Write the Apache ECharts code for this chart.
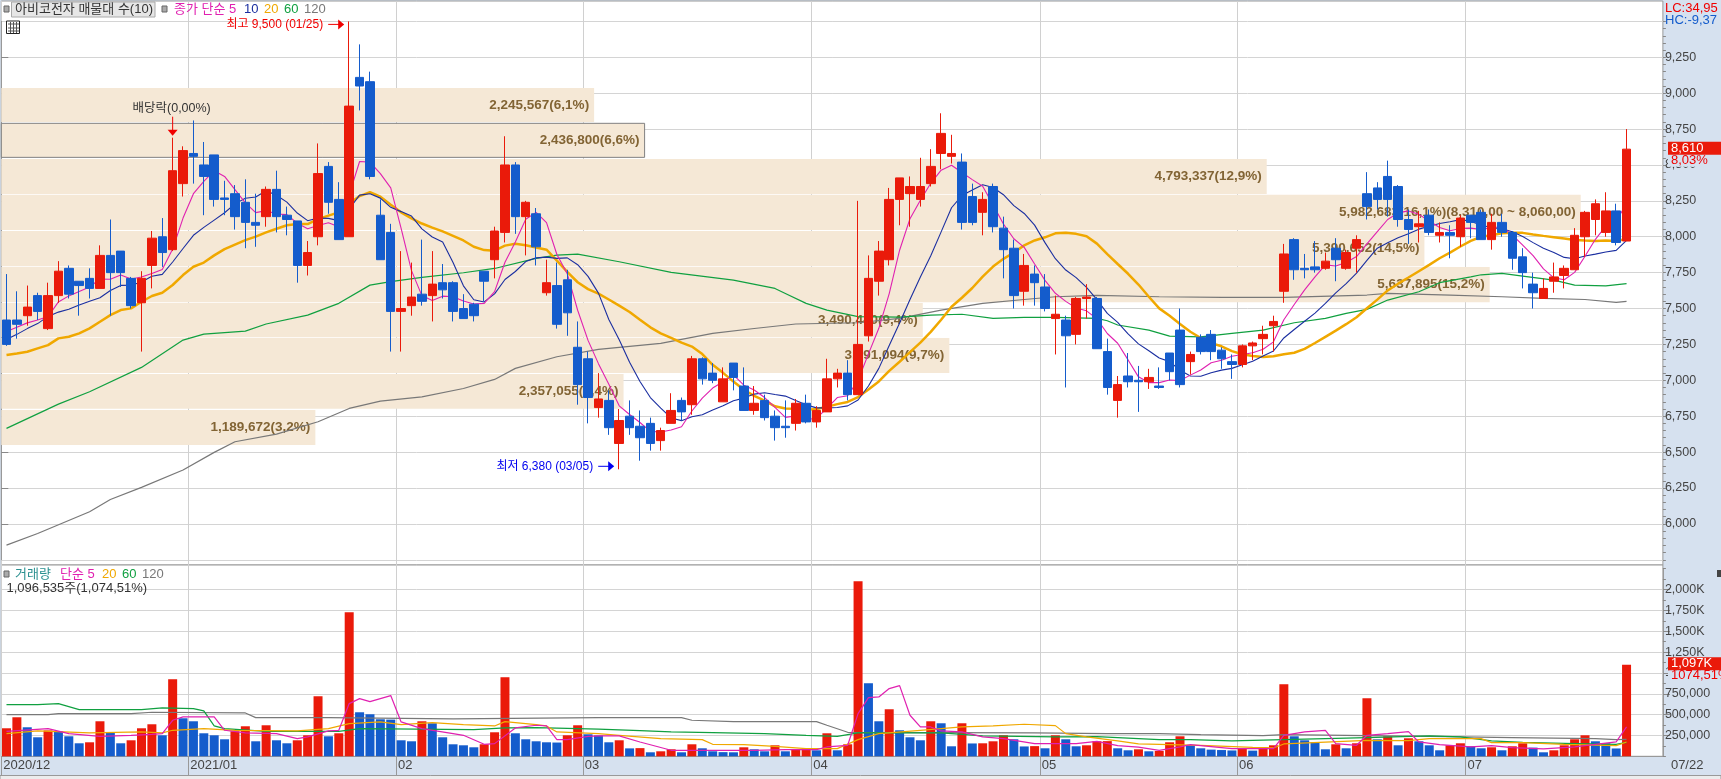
<!DOCTYPE html>
<html><head><meta charset="utf-8">
<style>html,body{margin:0;padding:0;background:#d6e1ef}#c{width:1721px;height:779px}</style>
<script src="https://cdn.jsdelivr.net/npm/echarts@6/dist/echarts.min.js"></script>
</head><body><div id="c"></div>
<script>
const opens=[7420,7420,7450,7590,7360,7590,7780,7690,7710,7640,7870,7900,7710,7540,7800,8000,7910,8370,8580,8500,8570,8270,8300,8240,8100,8140,8330,8150,8110,7800,8000,8490,8260,8000,9110,9080,8150,8030,7480,7520,7600,7590,7680,7680,7500,7530,7760,7840,8030,8500,8140,8160,7610,7660,7700,7230,7150,6810,6860,6560,6750,6680,6700,6580,6700,6860,6830,7150,7050,6850,7120,6960,6790,6860,6750,6680,6700,6840,6710,6780,7010,7050,6900,7310,7690,7840,8260,8300,8260,8370,8580,8560,8520,8280,8170,8350,8060,7920,7620,7740,7650,7430,7420,7320,7570,7570,7200,6860,7030,7000,6990,6960,7190,7350,7130,7300,7320,7210,7130,7110,7240,7290,7380,7620,7980,7780,7790,7780,7920,7780,7920,8300,8340,8420,8350,8120,8070,8150,8010,8030,8000,8150,8170,7980,8100,8030,7860,7670,7570,7690,7730,7770,8000,8120,8030,8180,7970];
const closes=[7250,7390,7510,7480,7590,7760,7600,7660,7640,7870,7750,7750,7520,7710,7990,7890,8460,8600,8560,8420,8260,8260,8140,8100,8080,8330,8140,8120,7800,7890,8440,8240,7980,8910,9050,8420,7840,7480,7500,7580,7550,7670,7630,7480,7430,7450,7690,8040,8500,8140,8240,7930,7680,7390,7470,6970,6880,6870,6670,6720,6670,6600,6560,6650,6790,6780,7150,7010,7000,7010,7020,6790,6840,6740,6670,6670,6840,6710,6790,7010,7050,6900,7250,7710,7900,8260,8410,8350,8350,8490,8720,8580,8100,8100,8260,8070,7910,7590,7800,7680,7500,7460,7310,7570,7580,7220,6950,6970,6990,6990,7020,6950,7060,6970,7180,7200,7200,7150,7110,7240,7260,7320,7410,7880,7770,7770,7770,7830,7840,7890,7980,8210,8260,8260,8120,8050,8090,8030,8030,8010,8130,8100,7980,8100,8030,7850,7750,7610,7640,7720,7780,8010,8170,8230,8180,7960,8610];
const lows=[7240,7290,7380,7420,7350,7540,7570,7450,7570,7640,7450,7650,7500,7200,7640,7790,7900,8280,8370,8150,8210,8150,8050,7920,7930,8070,8030,8010,7680,7730,7940,8160,7980,8000,8880,8400,7840,7200,7200,7450,7520,7410,7570,7410,7430,7410,7550,7710,7960,8020,7870,7800,7590,7360,7310,6830,6700,6740,6620,6380,6620,6440,6510,6510,6700,6720,6760,6970,6980,6850,6930,6790,6760,6720,6580,6600,6650,6700,6670,6780,6950,6860,6900,7270,7590,7800,8080,8070,8210,8350,8470,8510,8050,8080,8010,8030,7710,7500,7520,7520,7480,7180,6950,7250,7430,7220,6900,6740,6950,6780,6940,6940,7000,6950,7040,7180,7140,7080,7010,7090,7140,7180,7200,7540,7700,7710,7750,7770,7690,7770,7750,8120,8190,8140,8070,7950,7960,8010,7960,7850,7930,7990,7980,7910,8000,7770,7640,7500,7570,7610,7640,7770,7860,8010,8000,7940,7970];
const highs=[7740,7620,7660,7610,7680,7830,7800,7690,7780,7940,8120,7900,7720,7760,8040,8130,8690,8630,8810,8660,8570,8390,8360,8400,8300,8350,8460,8210,8110,7970,8650,8520,8380,9500,9340,9150,8260,8090,7900,7820,7980,7900,7810,7690,7600,7540,7760,8070,8700,8520,8250,8200,7840,7820,7770,7410,7200,7050,6930,6800,6860,6790,6740,6670,6910,6880,7170,7160,7120,7090,7120,7090,6960,6900,6790,6860,6870,6900,6820,7150,7080,7140,8250,7870,7970,8340,8410,8420,8550,8610,8860,8710,8580,8370,8310,8370,8140,7980,7880,7800,7740,7590,7450,7580,7670,7580,7290,7030,7190,7100,7080,7090,7190,7500,7200,7320,7350,7230,7180,7250,7270,7380,7450,7950,7990,7880,7970,7890,7990,7910,8010,8450,8380,8530,8360,8190,8180,8190,8100,8080,8150,8150,8190,8160,8160,8040,7920,7750,7710,7820,7800,8060,8180,8260,8310,8230,8750];
const ma5=[7340,7370,7400,7420,7444,7546,7588,7618,7650,7706,7704,7734,7706,7720,7744,7772,7914,8130,8300,8386,8460,8420,8328,8236,8168,8182,8158,8154,8094,8056,8078,8098,8070,8292,8524,8520,8440,8340,8058,7764,7590,7556,7586,7582,7552,7532,7536,7618,7822,7964,8122,8170,8098,7876,7742,7488,7278,7116,6972,6822,6762,6706,6644,6640,6654,6676,6786,6876,6946,6990,7038,6966,6932,6880,6812,6742,6752,6726,6736,6804,6880,6892,7000,7184,7362,7604,7906,8126,8254,8372,8464,8498,8448,8398,8352,8222,8088,7986,7926,7810,7696,7606,7550,7504,7484,7428,7326,7258,7142,7024,6984,6984,7002,6998,7036,7072,7122,7140,7168,7180,7192,7216,7268,7422,7528,7630,7720,7804,7796,7820,7862,7950,8036,8120,8166,8180,8156,8110,8064,8042,8058,8060,8050,8064,8068,8012,7942,7868,7776,7714,7700,7752,7864,7982,8074,8110,8230];
const ma10=[7285,7320,7360,7395,7445,7475,7495,7525,7550,7575,7625,7661,7662,7685,7725,7738,7824,7918,8010,8065,8116,8167,8229,8268,8277,8321,8289,8241,8165,8112,8130,8128,8112,8193,8290,8299,8269,8205,8175,8144,8055,7998,7963,7820,7658,7561,7546,7602,7702,7758,7827,7853,7858,7849,7853,7805,7724,7607,7424,7282,7125,6992,6880,6806,6738,6719,6746,6760,6793,6822,6857,6876,6904,6913,6901,6890,6859,6829,6808,6808,6811,6822,6863,6960,7083,7242,7399,7563,7719,7867,8034,8202,8287,8326,8362,8343,8293,8217,8162,8081,7959,7847,7768,7715,7647,7562,7466,7404,7323,7254,7206,7155,7130,7070,7030,7028,7053,7071,7083,7108,7132,7169,7204,7295,7354,7411,7468,7536,7609,7674,7746,7835,7920,7958,7993,8021,8053,8073,8092,8104,8119,8108,8080,8064,8055,8035,8001,7959,7920,7891,7856,7847,7866,7879,7894,7905,7975];
const ma20=[7176,7187,7199,7222,7245,7292,7303,7327,7362,7408,7454,7489,7501,7547,7587,7610,7664,7733,7791,7820,7870,7914,7945,7976,8001,8030,8056,8080,8088,8088,8123,8147,8170,8230,8283,8310,8279,8223,8170,8128,8092,8063,8037,8006,7974,7930,7907,7903,7938,7951,7941,7925,7910,7834,7755,7683,7635,7604,7563,7520,7476,7422,7369,7327,7295,7262,7235,7183,7108,7052,6991,6934,6892,6859,6819,6804,6802,6794,6800,6815,6834,6849,6883,6936,6992,7066,7129,7196,7263,7337,7422,7512,7575,7643,7722,7792,7846,7890,7940,7974,7996,8024,8027,8020,8004,7952,7879,7810,7742,7667,7582,7501,7449,7392,7338,7295,7259,7237,7203,7181,7169,7162,7167,7182,7192,7219,7260,7303,7346,7391,7439,7502,7562,7626,7673,7716,7760,7804,7850,7889,7932,7971,8000,8011,8024,8028,8027,8016,8006,7997,7987,7977,7973,7971,7974,7970,7985];
const ma60Points=[[0,6665],[5,6834],[8,6920],[13,7090],[17,7280],[19,7322],[23,7343],[25,7392],[29,7454],[32,7536],[35,7663],[37,7687],[40,7717],[44,7749],[47,7779],[51,7849],[53,7872],[55,7879],[59,7826],[64,7752],[70,7698],[74,7640],[75,7605],[77,7536],[79,7489],[82,7443],[86,7440],[89,7454],[92,7460],[95,7431],[98,7438],[101,7438],[105,7431],[106,7415],[107,7385],[110,7350],[112,7308],[115,7303],[118,7327],[121,7350],[124,7401],[127,7431],[129,7466],[131,7494],[133,7559],[136,7617],[138,7680],[141,7721],[142,7735],[144,7745],[146,7726],[149,7698],[151,7663],[154,7658],[156,7673]];
const ma120Points=[[0,5852],[3,5933],[8,6084],[10,6170],[13,6254],[17,6375],[20,6498],[22,6572],[26,6625],[30,6711],[33,6804],[36,6855],[40,6885],[44,6943],[47,7006],[49,7083],[53,7164],[57,7215],[63,7257],[68,7327],[72,7361],[76,7392],[82,7401],[86,7431],[90,7489],[94,7536],[98,7563],[101,7582],[105,7591],[111,7582],[117,7578],[123,7578],[131,7594],[133,7605],[139,7594],[144,7582],[148,7570],[152,7563],[155,7543],[156,7550]];
const volumesK=[336,468,348,228,310,300,240,156,168,420,288,156,192,336,384,252,924,456,420,276,252,204,300,360,180,372,192,156,192,252,720,240,276,1728,528,504,444,440,192,180,420,396,228,144,132,108,144,288,948,276,204,180,168,165,252,372,264,250,168,192,95,98,48,60,84,48,144,96,60,50,48,108,84,60,132,60,84,85,72,276,72,144,2100,876,420,564,312,228,192,420,396,120,396,154,156,180,252,204,118,122,96,252,204,120,132,180,182,96,72,84,60,64,168,240,132,96,80,75,70,96,68,108,132,864,240,192,168,84,144,96,156,696,204,240,132,216,180,132,72,132,156,120,96,108,72,120,156,104,48,72,132,204,252,180,156,94,1096.535];
const volMa5Points=[[0,300],[4,332],[6,272],[9,240],[12,252],[14,264],[15,272],[16,432],[17,472],[20,472],[21,312],[23,280],[26,272],[28,212],[29,232],[31,304],[32,312],[33,632],[34,692],[35,656],[37,728],[38,412],[40,332],[43,272],[44,252],[46,144],[47,152],[49,340],[51,372],[52,364],[53,200],[54,200],[56,240],[57,244],[59,244],[61,172],[64,72],[68,72],[72,72],[75,80],[78,80],[79,112],[81,132],[82,512],[83,704],[84,712],[85,812],[86,848],[87,492],[88,352],[89,352],[90,304],[92,292],[94,232],[96,212],[99,152],[103,152],[105,180],[107,128],[109,110],[111,72],[113,112],[114,140],[118,92],[122,92],[123,252],[125,292],[127,312],[128,152],[130,132],[131,252],[133,272],[135,296],[136,172],[138,140],[141,112],[143,128],[145,104],[148,88],[151,112],[155,172],[156,352]];
const volMa20Points=[[0,272],[3,304],[8,280],[13,292],[15,280],[16,312],[19,332],[22,312],[28,304],[31,332],[33,392],[36,412],[38,380],[41,404],[44,380],[47,364],[48,416],[51,380],[52,364],[53,292],[57,272],[59,252],[63,212],[67,200],[68,144],[71,140],[74,120],[77,92],[80,92],[82,200],[84,272],[88,312],[92,352],[95,364],[98,384],[101,368],[102,272],[104,232],[107,186],[109,148],[115,132],[120,108],[122,100],[123,148],[131,192],[135,188],[137,212],[142,212],[143,164],[146,164],[150,144],[155,128],[156,172]];
const volMa60Points=[[0,620],[3,620],[5,632],[7,560],[13,560],[15,580],[18,572],[19,544],[20,364],[21,332],[25,300],[32,300],[34,332],[45,320],[48,340],[51,344],[57,325],[61,308],[64,292],[68,284],[73,272],[77,252],[80,240],[82,280],[90,280],[94,244],[101,232],[105,236],[107,224],[111,200],[114,200],[118,184],[123,200],[131,224],[137,244],[140,232],[143,184],[146,168],[150,156],[155,144],[156,168]];
const volMa120Points=[[0,500],[4,500],[5,512],[12,512],[14,528],[23,520],[24,464],[31,464],[43,448],[57,464],[65,464],[66,432],[70,416],[78,416],[79,372],[81,288],[99,280],[106,272],[111,272],[115,260],[121,248],[123,260],[137,240],[145,224],[153,212],[155,200],[156,204]];
const candleDates=[];for(let i=0;i<160;i++)candleDates.push(String(i));
const monthIndex=[0,18,38,56,78,100,119,141,160];
const monthLabels=['2020/12','2021/01','02','03','04','05','06','07','07/22'];
const rowTops=[9036,8790,8541,8292,8040,7789,7538,7295,7044,6793];
const rowBottoms=[8799,8553,8298,8047,7794,7543,7300,7051,6802,6550];
const rowVolumes=[2245567,2436800,4793337,5982683,5390652,5637895,3490440,3591094,2357055,1189672];
const rowLabels=['2,245,567(6,1%)','2,436,800(6,6%)','4,793,337(12,9%)','5,982,683(16,1%)(8,310,00 ~ 8,060,00)','5,390,652(14,5%)','5,637,895(15,2%)','3,490,440(9,4%)','3,591,094(9,7%)','2,357,055(6,4%)','1,189,672(3,2%)'];
const highNote={index:33,value:9500,text:'최고 9,500 (01/25)'};
const lowNote={index:59,value:6380,text:'최저 6,380 (03/05)'};
const exNote={index:16,value:8690,text:'배당락(0,00%)'};

const FONT="'Liberation Sans','Noto Sans CJK KR',sans-serif";
const RED='#ea1a0a',BLUE='#145ccc',C5='#e020b0',C10='#1a2ea0',C20='#f0a800',C60='#10a040',C120='#787878';
const boundary=[];for(let i=0;i<=160;i++){const k=monthIndex.indexOf(i);boundary.push(k>=0?monthLabels[k]:'');}
const isMonth=(idx)=>monthIndex.indexOf(idx)>=0&&idx<160;
const L=1.3,W=1661.6;
const line=(name,data,color,width,xi,yi,z)=>({name,type:'line',data,xAxisIndex:xi,yAxisIndex:yi,symbol:'none',showSymbol:false,lineStyle:{color,width},itemStyle:{color},z:z||2,animation:false,silent:true,clip:false});
const withIdx=a=>a.map((v,i)=>[i,v]);
const K=a=>a.map(p=>[p[0],p[1]*1000]);
const tx=(text,x,y,fill,font,extra)=>({type:'text',x,y,z:20,silent:true,style:Object.assign({text,fill,font:font||('13px '+FONT),verticalAlign:'middle',align:'left'},extra||{})});

function bandItem(params,api){
  const i=params.dataIndex;
  const a=api.coord([0,rowTops[i]]),b=api.coord([rowVolumes[i],rowBottoms[i]]);
  const children=[{type:'rect',shape:{x:a[0],y:a[1],width:b[0]-a[0],height:b[1]-a[1]},style:{fill:'#f5e8d6',stroke:i===1?'#808080':null,lineWidth:1}},
   {type:'text',x:b[0]-5,y:(a[1]+b[1])/2,style:{text:rowLabels[i],fill:'#826434',font:'bold 13.5px '+FONT,align:'right',verticalAlign:'middle'}}];
  return {type:'group',children};
}
function noteItem(params,api){
  const n=[highNote,lowNote,exNote][params.dataIndex];
  const p=api.coord([n.index,n.value]);const x=p[0],y=p[1];
  if(params.dataIndex===2){
    return {type:'group',children:[
      {type:'text',x:x-1,y:y-29,style:{text:n.text,fill:'#333',font:'12.5px '+FONT,align:'center',verticalAlign:'middle'}},
      {type:'line',shape:{x1:x,y1:y-21,x2:x,y2:y-6},style:{stroke:'#f00000',lineWidth:1}},
      {type:'polygon',shape:{points:[[x-5,y-8],[x+5,y-8],[x,y-2]]},style:{fill:'#f00000'}}]};
  }
  const col=params.dataIndex===0?'#f00000':'#0000f0';
  const ty=params.dataIndex===0?y+3:y-3;
  return {type:'group',children:[
    {type:'text',x:x-26,y:ty,style:{text:n.text,fill:col,font:'12px '+FONT,align:'right',verticalAlign:'middle'}},
    {type:'line',shape:{x1:x-21,y1:ty,x2:x-8,y2:ty},style:{stroke:col,lineWidth:1}},
    {type:'polygon',shape:{points:[[x-11,ty-5],[x-11,ty+5],[x-5,ty]]},style:{fill:col}}]};
}
const tagRender=(t1,t2)=>function(params,api){
  const p=api.coord([api.value(0),api.value(1)]);
  const y=p[1]-1;
  return {type:'group',children:[
   {type:'rect',shape:{x:1668,y:y+6.5,width:53,height:12},style:{fill:'#d6e1ef'}},
   {type:'rect',shape:{x:1668,y:y-6.5,width:53,height:13},style:{fill:RED}},
   {type:'text',x:1671,y:y,style:{text:t1,fill:'#fff',font:'13px '+FONT,verticalAlign:'middle'}},
   {type:'text',x:1671,y:y+12,style:{text:t2,fill:'#f00000',font:'13px '+FONT,verticalAlign:'middle'}}]};
};
const iconLines=[];
[2,6,9].forEach(d=>iconLines.push({type:'line',z:20,silent:true,shape:{x1:8,y1:22+d,x2:19,y2:22+d},style:{stroke:'#555',lineWidth:1}}));
[3,6,9].forEach(d=>iconLines.push({type:'line',z:20,silent:true,shape:{x1:7.5+d,y1:22,x2:7.5+d,y2:33},style:{stroke:'#555',lineWidth:1}}));

const option={
 backgroundColor:'#d6e1ef',animation:false,
 grid:[
  {left:L,width:W,top:1,height:564,show:true,backgroundColor:'#fff',borderColor:'#999',borderWidth:1},
  {left:L,width:W,top:21.4,height:538.35},
  {left:L,width:W,top:565,height:191.3,show:true,backgroundColor:'#fff',borderColor:'#999',borderWidth:1},
  {left:L,width:W,top:568.65,height:187.65}
 ],
 xAxis:[
  {gridIndex:0,type:'category',boundaryGap:false,data:boundary,axisLine:{show:false},axisTick:{show:false},axisLabel:{show:false},
   splitLine:{show:true,interval:isMonth,lineStyle:{color:'#d0d0d0',width:1}}},
  {gridIndex:1,type:'category',data:candleDates,show:false},
  {gridIndex:1,type:'value',min:0,max:6294000,show:false},
  {gridIndex:2,type:'category',boundaryGap:false,data:boundary,
   axisLine:{show:true,lineStyle:{color:'#999',width:1}},
   axisTick:{show:true,interval:isMonth,length:19,lineStyle:{color:'#999'}},
   axisLabel:{show:true,interval:(i)=>monthIndex.indexOf(i)>=0,align:'left',margin:3,color:'#444',fontFamily:FONT,fontSize:13,padding:[0,0,0,2],
     showMaxLabel:true,showMinLabel:true,hideOverlap:false,
     formatter:(v)=>v==='07/22'?'{e|07/22}':v,rich:{e:{padding:[0,0,0,6],color:'#444',fontFamily:FONT,fontSize:13}}},
   splitLine:{show:true,interval:isMonth,lineStyle:{color:'#d0d0d0',width:1}}},
  {gridIndex:3,type:'category',data:candleDates,show:false}
 ],
 yAxis:[
  {gridIndex:0,type:'value',show:false},
  {gridIndex:1,type:'value',position:'right',min:5750,max:9500,interval:250,
   axisLine:{show:true,lineStyle:{color:'#999'}},axisTick:{show:true,length:7,lineStyle:{color:'#888'}},
   axisLabel:{color:'#444',fontFamily:FONT,fontSize:12.5,margin:2,showMinLabel:false,showMaxLabel:false,formatter:(v)=>v.toLocaleString('en-US')},
   splitLine:{show:true,lineStyle:{color:'#d4d4d4',width:1}}},
  {gridIndex:2,type:'value',show:false},
  {gridIndex:3,type:'value',position:'right',min:0,max:2250000,interval:250000,
   axisLine:{show:true,lineStyle:{color:'#999'}},axisTick:{show:true,length:7,lineStyle:{color:'#888'}},
   axisLabel:{color:'#444',fontFamily:FONT,fontSize:12.5,margin:2,showMaxLabel:false,showMinLabel:false,
     formatter:(v)=>v>=1000000?(v/1000).toLocaleString('en-US')+'K':v.toLocaleString('en-US')},
   splitLine:{show:true,showMaxLine:false,lineStyle:{color:'#d4d4d4',width:1}}},
  {gridIndex:1,type:'value',position:'right',min:5750,max:9500,interval:50,axisLine:{show:false},
   axisTick:{show:true,length:3,lineStyle:{color:'#888'}},axisLabel:{show:false},splitLine:{show:false}},
  {gridIndex:3,type:'value',position:'right',min:0,max:2250000,interval:125000,axisLine:{show:false},
   axisTick:{show:true,length:3,lineStyle:{color:'#888'}},axisLabel:{show:false},splitLine:{show:false}}
 ],
 series:[
  {type:'custom',name:'매물대',xAxisIndex:2,yAxisIndex:1,z:1,silent:true,renderItem:bandItem,data:rowVolumes.map((v,i)=>[v,rowBottoms[i]]),encode:{x:0,y:1},animation:false},
  line('MA120',ma120Points,C120,1.2,1,1),
  line('MA60',ma60Points,C60,1.2,1,1),
  line('MA20',withIdx(ma20),C20,2.5,1,1),
  line('MA10',withIdx(ma10),C10,1.1,1,1),
  line('MA5',withIdx(ma5),C5,1.1,1,1),
  {type:'candlestick',name:'가격',xAxisIndex:1,yAxisIndex:1,z:3,barWidth:9,silent:true,animation:false,
   itemStyle:{color:RED,color0:BLUE,borderColor:RED,borderColor0:BLUE,borderWidth:1},
   data:opens.map((o,i)=>[o,closes[i],lows[i],highs[i]])},
  {type:'custom',name:'주석',xAxisIndex:1,yAxisIndex:1,z:4,silent:true,renderItem:noteItem,animation:false,
   data:[highNote,lowNote,exNote].map(n=>[n.index,n.value]),encode:{x:0,y:1}},
  {type:'custom',name:'현재가',xAxisIndex:1,yAxisIndex:1,z:5,silent:true,renderItem:tagRender('8,610','8,03%'),animation:false,
   data:[[156,closes[156]]],encode:{x:0,y:1}},
  {type:'bar',name:'거래량',xAxisIndex:4,yAxisIndex:3,barWidth:9,z:2,silent:true,animation:false,
   data:volumesK.map(v=>v*1000),
   itemStyle:{color:(p)=>(p.dataIndex===0||volumesK[p.dataIndex]>=volumesK[p.dataIndex-1])?RED:BLUE}},
  line('V120',K(volMa120Points),C120,1.2,4,3,3),
  line('V60',K(volMa60Points),C60,1.2,4,3,3),
  line('V20',K(volMa20Points),C20,1.2,4,3,3),
  line('V5',K(volMa5Points),C5,1.2,4,3,3),
  {type:'custom',name:'거래량값',xAxisIndex:4,yAxisIndex:3,z:5,silent:true,renderItem:tagRender('1,097K','1074,51%'),animation:false,
   data:[[156,volumesK[156]*1000]],encode:{x:0,y:1}}
 ],
 graphic:[
  {type:'rect',z:20,silent:true,shape:{x:11.5,y:2,width:143.5,height:15},style:{fill:'#e6e6e6',stroke:'#aaa',lineWidth:1}},
  {type:'rect',z:20,silent:true,shape:{x:4,y:6,width:5,height:6},style:{fill:'#aaa',stroke:'#666',lineWidth:1}},
  tx('아비코전자 매물대 수(10)',15,9.5,'#333'),
  {type:'rect',z:20,silent:true,shape:{x:162,y:6,width:5,height:6},style:{fill:'#aaa',stroke:'#666',lineWidth:1}},
  tx('종가 단순 5',174,9.5,C5),tx('10',244,9.5,C10),tx('20',264,9.5,C20),tx('60',284,9.5,C60),tx('120',304,9.5,C120),
  {type:'rect',z:20,silent:true,shape:{x:6.5,y:21,width:13,height:12.5},style:{fill:'#fff',stroke:'#222',lineWidth:1}},
  ...iconLines,
  {type:'rect',z:20,silent:true,shape:{x:4,y:571,width:5,height:6},style:{fill:'#aaa',stroke:'#666',lineWidth:1}},
  tx('거래량',15,574,'#2a9090'),tx('단순 5',60,574,C5),tx('20',102,574,C20),tx('60',122,574,C60),tx('120',142,574,C120),
  tx('1,096,535주(1,074,51%)',6.5,588,'#333'),
  tx('LC:34,95',1665,8,'#f00000'),tx('HC:-9,37',1665,20,'#145ccc'),
  {type:'rect',z:19,silent:true,shape:{x:0,y:775.5,width:1721,height:4},style:{fill:'#ececec',stroke:'#999',lineWidth:1}},
  {type:'rect',z:20,silent:true,shape:{x:1717,y:570,width:4,height:7},style:{fill:'#444'}}
 ]
};
const chart=echarts.init(document.getElementById('c'),null,{renderer:'canvas'});
chart.setOption(option);
</script></body></html>
